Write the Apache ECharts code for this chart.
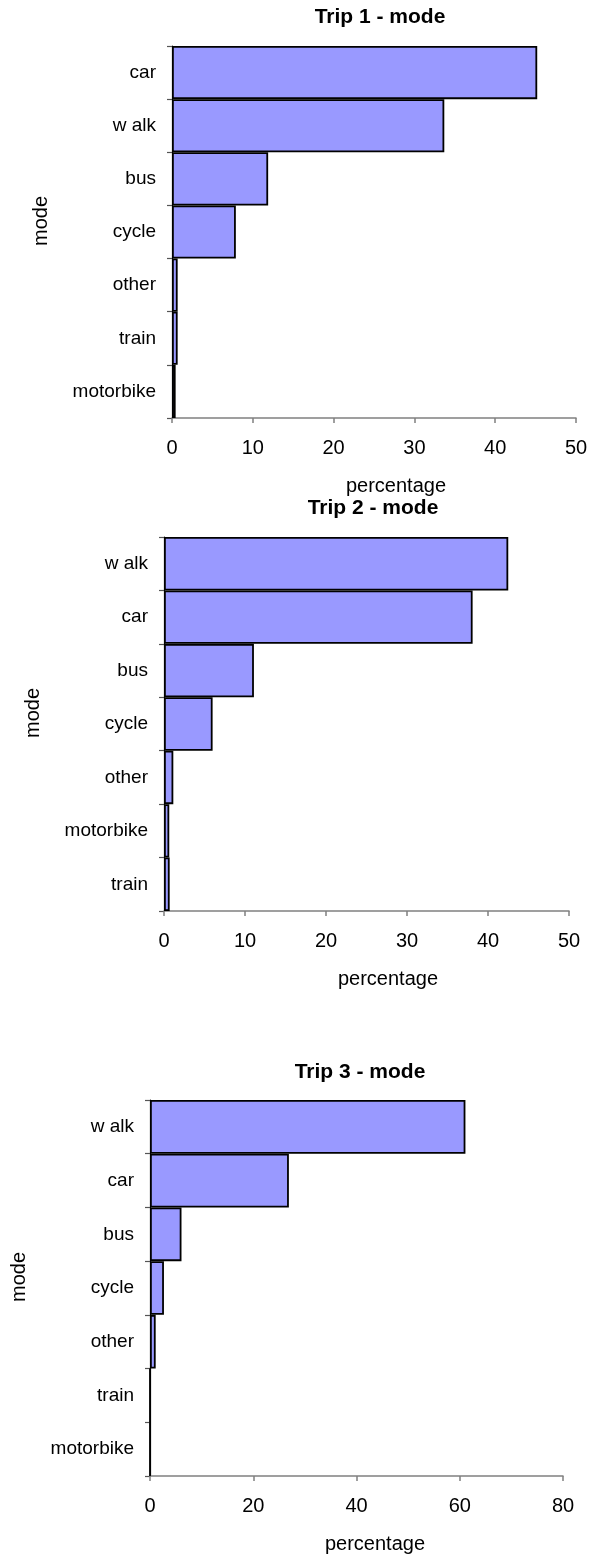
<!DOCTYPE html>
<html>
<head>
<meta charset="utf-8">
<script src="https://cdn.jsdelivr.net/npm/echarts@6/dist/echarts.min.js"></script>
<style>
  html, body { margin: 0; padding: 0; background: #fff; }
  #chart { width: 592px; height: 1557px; }
</style>
</head>
<body>
<div id="chart"></div>
<script>
// Travel mode shares (percent) for three trips
const trip1Modes = ['car', 'w alk', 'bus', 'cycle', 'other', 'train', 'motorbike'];
const trip1Values = [45.2, 33.7, 11.9, 7.9, 0.7, 0.7, 0.45];

const trip2Modes = ['w alk', 'car', 'bus', 'cycle', 'other', 'motorbike', 'train'];
const trip2Values = [42.5, 38.1, 11.1, 6.0, 1.15, 0.65, 0.7];

const trip3Modes = ['w alk', 'car', 'bus', 'cycle', 'other', 'train', 'motorbike'];
const trip3Values = [61.1, 26.9, 6.1, 2.7, 1.1, 0, 0];

const chartTitles = ['Trip 1 - mode', 'Trip 2 - mode', 'Trip 3 - mode'];
const xAxisName = 'percentage';
const yAxisName = 'mode';

const FONT = "'Liberation Sans', Arial, sans-serif";
const CAT_SIZE = 19;
const NUM_SIZE = 20;
const NAME_SIZE = 20;

// Plot rectangles and axis scale for each panel
const panels = [
  { grid: { left: 172, top: 46, width: 404, height: 372 }, max: 50, interval: 10,
    modes: trip1Modes, values: trip1Values, title: chartTitles[0], titleX: 380, titleY: 17,
    xNameShift: 44 },
  { grid: { left: 164, top: 537, width: 405, height: 374 }, max: 50, interval: 10,
    modes: trip2Modes, values: trip2Values, title: chartTitles[1], titleX: 373, titleY: 508,
    xNameShift: 43 },
  { grid: { left: 150, top: 1100, width: 413, height: 376 }, max: 80, interval: 20,
    modes: trip3Modes, values: trip3Values, title: chartTitles[2], titleX: 360, titleY: 1072,
    xNameShift: 37 }
];

const option = {
  backgroundColor: '#ffffff',
  animation: false,
  grid: panels.map(p => Object.assign({ containLabel: false }, p.grid)),
  xAxis: panels.map((p, i) => ({
    type: 'value',
    gridIndex: i,
    min: 0,
    max: p.max,
    interval: p.interval,
    splitLine: { show: false },
    axisLine: { show: true, lineStyle: { color: '#808080', width: 1.5 } },
    axisTick: { show: true, length: 5, lineStyle: { color: '#808080', width: 1.5 } },
    axisLabel: { color: '#000', fontFamily: FONT, fontSize: NUM_SIZE, margin: 20 },
    name: xAxisName,
    nameLocation: 'middle',
    nameGap: 58,
    nameTextStyle: { color: '#000', fontFamily: FONT, fontSize: NAME_SIZE,
      padding: [0, 0, 0, p.xNameShift] }
  })),
  yAxis: panels.map((p, i) => ({
    type: 'category',
    gridIndex: i,
    inverse: true,
    data: p.modes,
    axisLine: { show: true, lineStyle: { color: '#000', width: 1.2 } },
    axisTick: { show: true, length: 5, lineStyle: { color: '#555', width: 1.2 } },
    axisLabel: { color: '#000', fontFamily: FONT, fontSize: CAT_SIZE, margin: 16 },
    name: yAxisName,
    nameLocation: 'middle',
    nameGap: 121,
    nameTextStyle: { color: '#000', fontFamily: FONT, fontSize: NAME_SIZE,
      padding: [0, 0, 0, 22] }
  })),
  series: panels.map((p, i) => ({
    type: 'bar',
    xAxisIndex: i,
    yAxisIndex: i,
    data: p.values,
    barCategoryGap: '0%',
    itemStyle: { color: '#9999ff', borderColor: '#000', borderWidth: 1.8 }
  })),
  graphic: panels.map(p => ({
    type: 'text',
    x: p.titleX,
    y: p.titleY,
    style: {
      text: p.title,
      fill: '#000',
      font: 'bold 21px ' + FONT,
      textAlign: 'center',
      textVerticalAlign: 'middle'
    }
  }))
};

const chart = echarts.init(document.getElementById('chart'), null, { renderer: 'canvas' });
chart.setOption(option);
</script>
</body>
</html>
